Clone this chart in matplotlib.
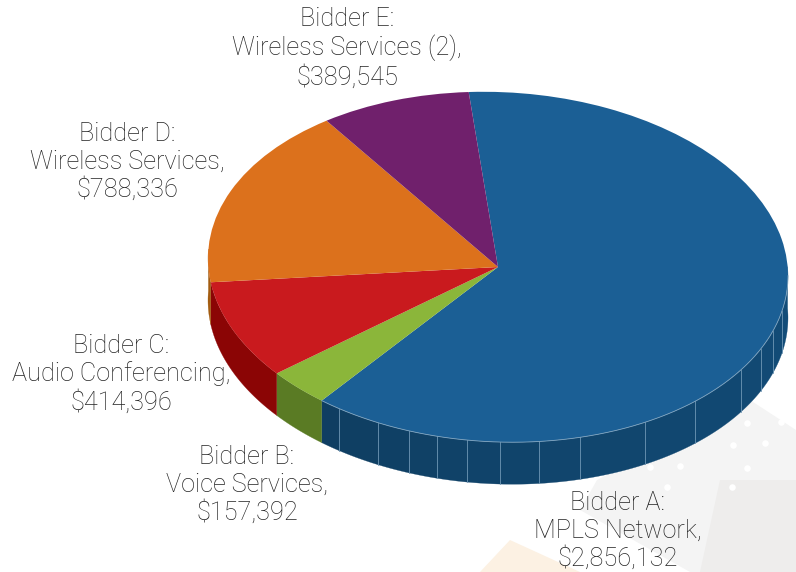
import matplotlib
matplotlib.use('Agg')
import matplotlib.pyplot as plt
import numpy as np
from matplotlib.colors import to_rgb
from matplotlib.transforms import Affine2D

bidders = ['Bidder A:\nMPLS Network,', 'Bidder B:\nVoice Services,', 'Bidder C:\nAudio Conferencing,',
           'Bidder D:\nWireless Services,', 'Bidder E:\nWireless Services (2),']
amounts = [2856132, 157392, 414396, 788336, 389545]
top_colors = ['#1b5f95', '#8bb63a', '#c91a1e', '#dc711c', '#70206c']
side_colors = ['#11466f', '#5a7b24', '#8b0505', '#a35c10', '#4d1049']
label_pos = [(618, 531), (247, 485), (121, 374), (127, 162), (347, 48)]

# where the panel seams sit on the blue rim, pixels across the picture
seam_x = [339, 378, 409, 437, 467, 500, 539, 580, 645, 695, 741, 761, 773, 782]

start_angle = 95.8
cx, cy = 498, 267
rx, ry = 290, 175
depth = 42 / ry
tilt = -0.05  # the disc is drawn slightly rotated, lower on the right

fig = plt.figure(figsize=(7.96, 5.72), dpi=100)

# faint background shapes behind everything
bg = fig.add_axes([0, 0, 1, 1], zorder=0)
bg.set_xlim(0, 796)
bg.set_ylim(572, 0)
bg.axis('off')
bg.fill([597, 750, 796, 796, 690, 580], [480, 400, 430, 572, 572, 510], color='#f4f4f4', lw=0)
bg.fill([720, 796, 796, 700], [480, 480, 572, 572], color='#eeedec', lw=0)
bg.fill([480, 510, 580], [572, 540, 572], color='#fcf1e3', lw=0)
fleck_x = [747, 733, 765, 680, 650, 782, 781, 747, 667, 732]
fleck_y = [423, 445, 443, 466, 467, 380, 422, 468, 487, 487]
bg.scatter(fleck_x, fleck_y, s=22, color='white', lw=0)

ax = fig.add_axes([(cx - rx) / 796, 1 - (cy + ry + 45) / 572, 2 * rx / 796, (2 * ry + 45) / 572], zorder=1)
tilted = Affine2D.from_values(1, tilt, 0, 1, 0, 0) + ax.transData

total = sum(amounts)
spans = [a / total * 360 for a in amounts]
ends = start_angle - np.cumsum(spans)
starts = ends + np.array(spans)


def mix(c, f):
    return tuple(min(1, v * f) for v in to_rgb(c))


# rim first, only the part that faces the viewer (180..360 degrees, plus a bit for the tilt)
for i in range(len(amounts)):
    for shift in (0, 360, -360):
        a0 = max(ends[i] + shift, 177)
        a1 = min(starts[i] + shift, 363)
        if a1 <= a0:
            continue
        if i == 0:
            seam_angles = [np.degrees(2 * np.pi - np.arccos((x - cx) / rx)) for x in seam_x]
            edges = [a0] + [s for s in seam_angles if a0 < s < a1] + [a1]
        else:
            edges = [a0, a1]
        for k in range(len(edges) - 1):
            t = np.radians(np.linspace(edges[k], edges[k + 1], 40))
            xs = np.cos(t)
            ys = np.sin(t)
            f = 1.0
            if i == 0:
                f = 0.88 + 0.2 * k / (len(edges) - 2)
            ax.fill(np.r_[xs, xs[::-1]], np.r_[ys, ys[::-1] - depth], color=mix(side_colors[i], f), lw=0.2,
                    transform=tilted, clip_on=False)
            if i == 0 and k > 0:
                ax.plot([xs[0], xs[0]], [ys[0], ys[0] - depth], color='#6f97b5', lw=0.6,
                        transform=tilted, clip_on=False)

wedges, _ = ax.pie(amounts, colors=top_colors, startangle=start_angle, counterclock=False, radius=1,
                   wedgeprops={'linewidth': 0.3, 'edgecolor': 'none'})
for w in wedges:
    w.set_transform(tilted)
    w.set_clip_on(False)
ax.set_aspect('auto')
ax.set_xlim(-1, 1)
ax.set_ylim(-1 - 45 / ry, 1)

# thin pale highlight along the front edge of the blue slice
t = np.radians(np.linspace(ends[0] + 360, 360, 200))
ax.plot(np.cos(t), np.sin(t), color='#7fa4c0', lw=0.6, transform=tilted, clip_on=False)

# labels on their own overlay so the pie never covers them
over = fig.add_axes([0, 0, 1, 1], zorder=2)
over.set_xlim(0, 796)
over.set_ylim(572, 0)
over.axis('off')
for name, amount, (x, y) in zip(bidders, amounts, label_pos):
    over.text(x, y, name + '\n${:,}'.format(amount), ha='center', va='center', fontsize=18.2,
              family='Roboto', weight='light', color='#222222', linespacing=1.18)

fig.savefig('out.png', dpi=100)
